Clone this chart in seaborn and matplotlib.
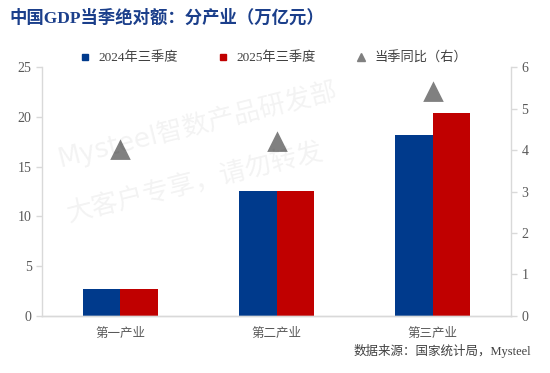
import numpy as np
import pandas as pd
import matplotlib
matplotlib.use("Agg")
import matplotlib.pyplot as plt
from matplotlib.lines import Line2D
import seaborn as sns

# GDP by industry, current-quarter absolute value (trillion yuan)
industries = ["第一产业", "第二产业", "第三产业"]
q3_2024 = [2.7, 12.6, 18.2]
q3_2025 = [2.7, 12.6, 20.4]
yoy = [4.0, 4.2, 5.4]  # right axis, %
series_names = ["2024年三季度", "2025年三季度"]
yoy_name = "当季同比（右）"

blue = "#003A8C"
red = "#C00000"
grey = "#808080"

sns.set_theme(style="white")
plt.rcParams["font.family"] = ["Liberation Serif", "Noto Sans CJK SC", "DejaVu Sans"]

df = pd.DataFrame({
    "industry": industries * 2,
    "series": [series_names[0]] * 3 + [series_names[1]] * 3,
    "value": q3_2024 + q3_2025,
})

fig = plt.figure(figsize=(5.5, 3.73), dpi=100)
ax = fig.add_axes([0.0764, 0.153, 0.8527, 0.667])

sns.barplot(data=df, x="industry", y="value", hue="series", order=industries,
            hue_order=series_names, palette=[blue, red], width=0.48,
            linewidth=0, saturation=1, ax=ax, legend=False)

ax2 = ax.twinx()
sns.pointplot(x=industries, y=yoy, order=industries, ax=ax2, color=grey,
              markers="^", linestyle="none", markersize=11)

ax.set_xlim(-0.5, 2.5)
ax.set_ylim(0, 25)
ax.set_yticks(np.arange(0, 26, 5))
ax2.set_ylim(0, 6)
ax2.set_yticks(np.arange(0, 7, 1))
ax.set_xlabel("")
ax.set_ylabel("")
ax2.set_ylabel("")

spine_c = "#D9D9D9"
for a in (ax, ax2):
    for s in a.spines.values():
        s.set_color(spine_c)
        s.set_linewidth(1)
    a.spines["top"].set_visible(False)
    a.tick_params(axis="y", colors=spine_c, labelcolor="#595959", labelsize=10,
                  length=4, width=1, direction="out")
ax2.spines["left"].set_visible(False)
ax.spines["right"].set_visible(False)

ax.set_xticks([0, 1, 2])
ax.set_xticklabels(industries, color="#595959", fontsize=9)
ax.tick_params(axis="x", length=0, pad=9)
ax.set_xticks([0.5, 1.5], minor=True)
ax.tick_params(axis="x", which="minor", length=4, width=1, color=spine_c,
               direction="out")

handles = [
    Line2D([], [], marker="s", color=blue, linestyle="none", markersize=5),
    Line2D([], [], marker="s", color=red, linestyle="none", markersize=5),
    Line2D([], [], marker="^", color=grey, linestyle="none", markersize=6),
]
fig.legend(handles, series_names + [yoy_name], loc="center",
           bbox_to_anchor=(0.49, 0.845), ncol=3, frameon=False, fontsize=9.5,
           handletextpad=0.05, columnspacing=2.4, labelcolor="#404040")

fig.text(0.018, 0.952, "中国GDP当季绝对额：分产业（万亿元）", fontsize=12.5,
         fontweight="bold", color="#1B3F8B", va="center")
fig.text(0.965, 0.058, "数据来源：国家统计局，Mysteel", fontsize=9,
         color="#404040", ha="right", va="center")

# watermark
fig.text(0.358, 0.665, "Mysteel智数产品研发部", fontsize=19, color="#000000",
         alpha=0.05, rotation=14, ha="center", va="center",
         family=["DejaVu Sans", "Noto Sans CJK SC"])
fig.text(0.355, 0.51, "大客户专享，请勿转发", fontsize=19, color="#000000",
         alpha=0.05, rotation=14, ha="center", va="center",
         family=["Noto Sans CJK SC"])

fig.savefig("out.png", dpi=100)
